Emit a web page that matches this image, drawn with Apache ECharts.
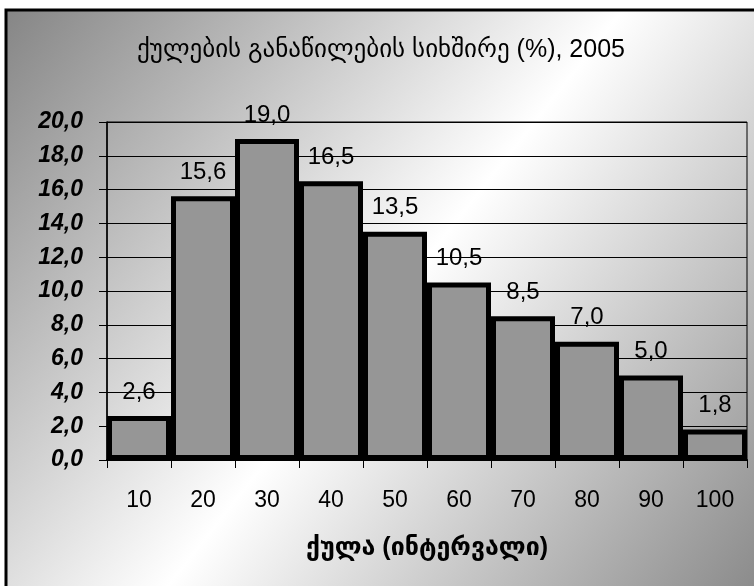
<!DOCTYPE html>
<html>
<head>
<meta charset="utf-8">
<title>ქულების განაწილების სიხშირე</title>
<script src="https://cdn.jsdelivr.net/npm/echarts@6/dist/echarts.min.js"></script>
<style>
  html, body { margin: 0; padding: 0; background: #fff; }
  #chart { width: 754px; height: 586px; }
</style>
</head>
<body>
<div id="chart"></div>
<script>
// Score intervals and share of students in each (%), 2005
const categories = ['10', '20', '30', '40', '50', '60', '70', '80', '90', '100'];
const shares = [2.6, 15.6, 19.0, 16.5, 13.5, 10.5, 8.5, 7.0, 5.0, 1.8];

const titleText = 'ქულების განაწილების სიხშირე (%), 2005';
const xAxisName = 'ქულა (ინტერვალი)';

const fontStack = "'Liberation Sans', Arial, 'DejaVu Sans', sans-serif";
const comma = v => Number(v).toFixed(1).replace('.', ',');

const chart = echarts.init(document.getElementById('chart'));

chart.setOption({
  animation: false,
  backgroundColor: '#ffffff',
  graphic: [{
    type: 'rect',
    z: -100,
    shape: { x: 6, y: 10, width: 760, height: 600 },
    style: {
      fill: {
        type: 'linear', x: 0, y: 0, x2: 1, y2: 1,
        colorStops: [
          { offset: 0, color: '#858585' },
          { offset: 0.5, color: '#ffffff' },
          { offset: 1, color: '#858585' }
        ]
      },
      stroke: '#000',
      lineWidth: 3
    },
    silent: true
  }],
  title: {
    text: titleText,
    left: 132,
    top: 33,
    textStyle: {
      fontFamily: fontStack,
      fontSize: 25,
      fontWeight: 'normal',
      color: '#000'
    }
  },
  grid: {
    left: 107,
    right: 7,
    top: 122,
    bottom: 126,
    show: true,
    borderColor: '#000',
    borderWidth: 1,
    backgroundColor: 'transparent'
  },
  xAxis: {
    type: 'category',
    data: categories,
    name: xAxisName,
    nameLocation: 'middle',
    nameGap: 76,
    nameTextStyle: {
      fontFamily: fontStack,
      fontSize: 25,
      fontWeight: 'bold',
      color: '#000'
    },
    axisLine: { lineStyle: { color: '#000', width: 2 } },
    axisTick: { show: true, length: 8, lineStyle: { color: '#000', width: 1 } },
    axisLabel: {
      margin: 29,
      fontFamily: fontStack,
      fontSize: 23,
      color: '#000'
    }
  },
  yAxis: {
    type: 'value',
    min: 0,
    max: 20,
    interval: 2,
    axisLine: { show: true, lineStyle: { color: '#000', width: 1.5 } },
    axisTick: { show: true, length: 8, lineStyle: { color: '#000', width: 1 } },
    splitLine: { show: true, lineStyle: { color: '#000', width: 1 } },
    axisLabel: {
      margin: 24,
      formatter: comma,
      fontFamily: fontStack,
      fontSize: 23,
      fontWeight: 'bold',
      fontStyle: 'italic',
      color: '#000'
    }
  },
  series: [{
    type: 'bar',
    data: shares,
    barCategoryGap: '0%',
    itemStyle: {
      color: '#969696',
      borderColor: '#000',
      borderWidth: 5
    },
    label: {
      show: true,
      position: 'top',
      distance: 12,
      formatter: p => comma(p.value),
      fontFamily: fontStack,
      fontSize: 24,
      color: '#000'
    }
  }]
});
</script>
</body>
</html>
